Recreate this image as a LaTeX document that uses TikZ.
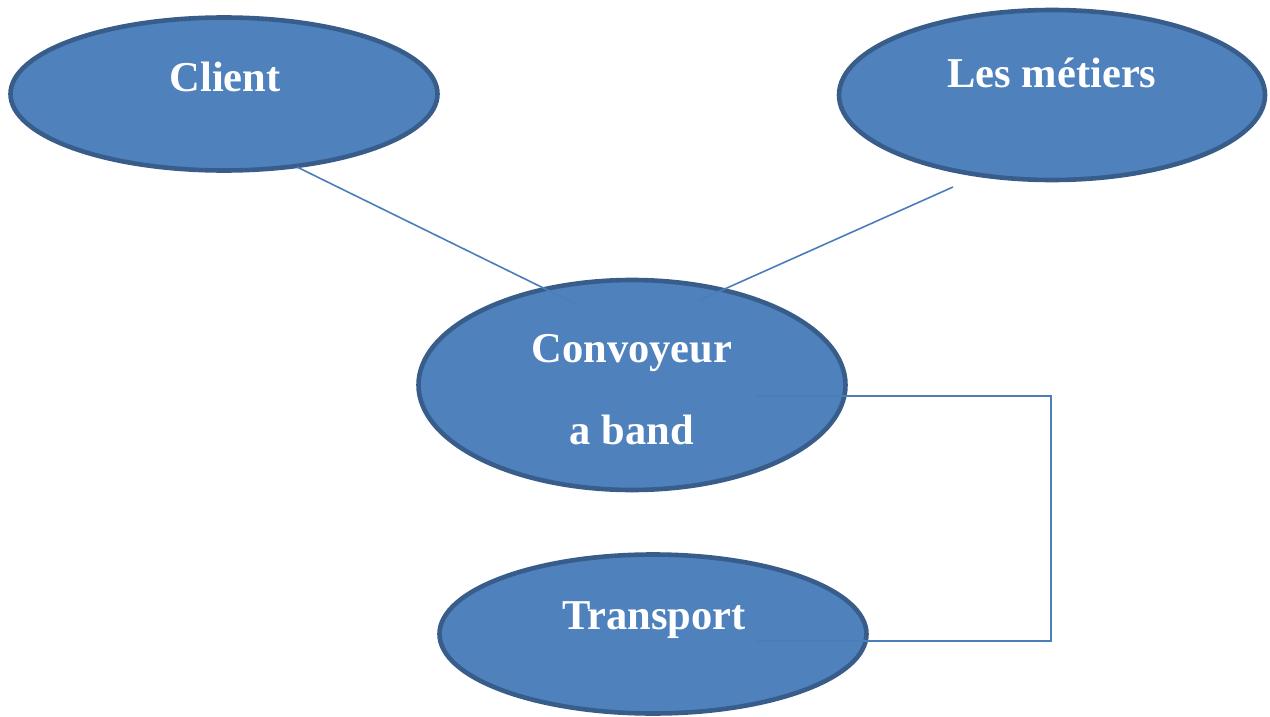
\documentclass[tikz,border=0pt]{standalone}
\usepackage{fontspec}
\setmainfont{Liberation Serif}
\usetikzlibrary{shapes.geometric,calc}
\definecolor{ellfill}{HTML}{4F81BD}
\definecolor{elldraw}{HTML}{385D8A}
\definecolor{linkcol}{HTML}{4A7EBB}
\tikzset{
  ell/.style={ellipse, fill=ellfill, draw=elldraw, line width=4.6pt, inner sep=0pt},
  lbl/.style={text=white, font=\fontsize{42.5}{50}\selectfont\bfseries, inner sep=0pt, anchor=base},
  link/.style={draw=linkcol, line width=1.6pt}
}
\begin{document}
\begin{tikzpicture}[x=1pt,y=-1pt]
\useasboundingbox (0,0) rectangle (1270,717);
% ellipses
\node[ell, minimum width=427pt, minimum height=153pt] (client) at (224,94) {};
\node[ell, minimum width=426pt, minimum height=170pt] (metiers) at (1052,95) {};
\node[ell, minimum width=427pt, minimum height=210pt] (conv) at (632,385) {};
\node[ell, minimum width=427pt, minimum height=159pt] (trans) at (653,634) {};
% labels
\node[lbl] (tclient) at (225,92) {Client};
\node[lbl] (tmetiers) at (1052,88) {Les métiers};
\node[lbl] (tconv1) at (632,362) {Convoyeur};
\node[lbl] (tconv2) at (632,444) {a band};
\node[lbl] (ttrans) at (654,629) {Transport};
% connector ends
\coordinate (a1) at ($(client.center)+(73,73)$);
\coordinate (a2) at ($(conv.center)+(-54,-80)$);
\coordinate (b1) at ($(metiers.center)+(-99,92)$);
\coordinate (b2) at ($(conv.center)+(68,-85)$);
\coordinate (c1) at ($(conv.center)+(125,11)$);
\coordinate (c2) at ($(trans.center)+(104,7)$);
\coordinate (cr) at (1051,396);
\coordinate (cb) at (1051,641);
% connectors
\draw[link] (a1) -- (a2);
\draw[link] (b1) -- (b2);
\draw[link] (c1) -- (cr) -- (cb) -- (c2);
\end{tikzpicture}
\end{document}
